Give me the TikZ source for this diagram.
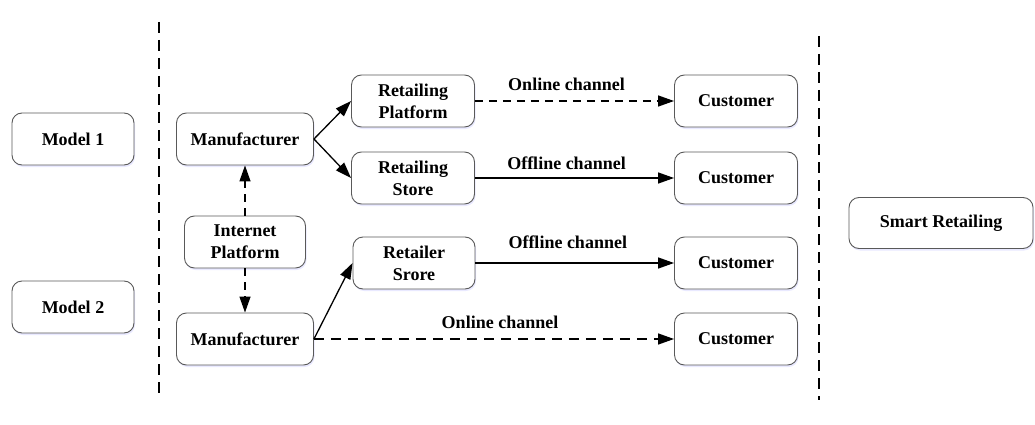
\documentclass[tikz,border=0pt]{standalone}
\usepackage{fontspec}
\setmainfont{Liberation Serif}
\usetikzlibrary{arrows.meta,shadows}
\begin{document}
\begin{tikzpicture}[x=1pt,y=-1pt,
  box/.style={draw=black!65, line width=0.9pt, rounded corners=10pt, fill=white,
    font=\fontsize{18}{22}\selectfont\bfseries, align=center, inner sep=0pt,
    minimum height=52pt,
    drop shadow={shadow xshift=1pt, shadow yshift=-2pt, fill=blue!25, opacity=0.35}},
  lbl/.style={font=\fontsize{18}{22}\selectfont\bfseries, inner sep=1pt},
  conn/.style={line width=1.3pt, -{Triangle[length=16pt,width=11pt]}},
  dconn/.style={conn, dash pattern=on 8pt off 6pt},
  ldconn/.style={conn, dash pattern=on 10pt off 7pt},
  sep/.style={line width=1.2pt, dash pattern=on 11pt off 7pt}
]
\useasboundingbox (0,0) rectangle (1035,425);

\node[box, minimum width=122pt] (m1) at (73,139) {Model 1};
\node[box, minimum width=122pt] (m2) at (73,307) {Model 2};

\node[box, minimum width=137pt] (man1) at (245,139) {Manufacturer};
\node[box, minimum width=121pt] (ip) at (245,242) {Internet\\Platform};
\node[box, minimum width=137pt] (man2) at (245,339) {Manufacturer};

\node[box, minimum width=123pt] (rp) at (413,101) {Retailing\\Platform};
\node[box, minimum width=123pt] (rs) at (413,178) {Retailing\\Store};
\node[box, minimum width=122pt] (rsr) at (414,263) {Retailer\\Srore};

\node[box, minimum width=123pt] (c1) at (736,101) {Customer};
\node[box, minimum width=123pt] (c2) at (736,178) {Customer};
\node[box, minimum width=123pt] (c3) at (736,263) {Customer};
\node[box, minimum width=123pt] (c4) at (736,339) {Customer};

\node[box, minimum width=184pt, minimum height=51pt] (sr) at (941,223) {Smart Retailing};

\coordinate (l1) at (159,22);
\coordinate (l2) at (159,398);
\coordinate (r1) at (819,36);
\coordinate (r2) at (819,400);
\draw[sep] (l1) -- (l2);
\draw[sep] (r1) -- (r2);

\draw[conn] (man1.east) -- (rp.west);
\draw[conn] (man1.east) -- (rs.west);
\draw[dconn] (ip.north) -- (man1.south);
\draw[dconn] (ip.south) -- (man2.north);
\draw[conn] (man2.east) -- (rsr.west);

\draw[dconn] (rp.east) -- node[lbl, above=9pt, xshift=-8pt] {Online channel} (c1.west);
\draw[conn] (rs.east) -- node[lbl, above=7pt, xshift=-8pt] {Offline channel} (c2.west);
\draw[conn] (rsr.east) -- node[lbl, above=13pt, xshift=-7pt] {Offline channel} (c3.west);
\draw[ldconn] (man2.east) -- node[lbl, above=9pt, xshift=6pt] {Online channel} (c4.west);
\end{tikzpicture}
\end{document}
